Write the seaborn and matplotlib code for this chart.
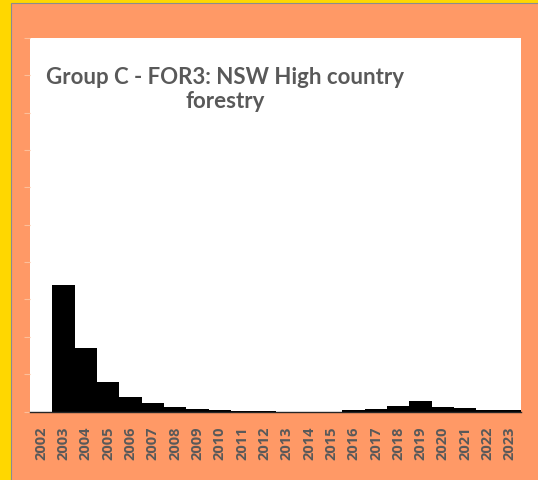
import matplotlib
matplotlib.use("Agg")
import matplotlib.pyplot as plt
from matplotlib.patches import Rectangle
import seaborn as sns
import pandas as pd

years = [str(y) for y in range(2002, 2024)]
values = [0, 34, 17, 8, 4, 2.2, 1.1, 0.8, 0.4, 0.2, 0.1, 0, 0, 0,
          0.5, 0.8, 1.6, 2.9, 1.3, 1.0, 0.5, 0.3]
title_lines = ["Group C - FOR3: NSW High country", "forestry"]

sns.set_theme(style="white")
plt.rcParams["font.family"] = ["Lato", "DejaVu Sans"]

W, H = 538, 481
fig = plt.figure(figsize=(W / 100, H / 100), dpi=100)
fig.patch.set_facecolor("#FFD700")

# orange chart area with thin grey border
fig.add_artist(Rectangle((11 / W, -0.01), 1.02, 1 - 4 / H + 0.01,
                         transform=fig.transFigure, facecolor="#FF9966",
                         edgecolor="#8C8C8C", linewidth=0.8, zorder=-5))

ax = fig.add_axes([30 / W, 1 - 412.5 / H, (521 - 30) / W, (412.5 - 39) / H])
ax.set_zorder(2)
ax.set_facecolor("white")

df = pd.DataFrame({"year": years, "value": values})
sns.barplot(data=df, x="year", y="value", color="black", width=1.0,
            saturation=1, edgecolor="none", ax=ax)
ax.set_xlim(-0.5, len(years) - 0.5)
ax.set_ylim(0, 100)
ax.set_yticks(range(0, 101, 10))
ax.set_yticklabels([])
ax.tick_params(axis="y", left=True, length=4, width=0.8, color="#FDBE9A",
               direction="out", pad=0)
ax.tick_params(axis="x", bottom=False, pad=4)
for lbl in ax.get_xticklabels():
    lbl.set_rotation(90)
    lbl.set_family(["Open Sans", "DejaVu Sans"])
    lbl.set_fontsize(10.5)
    lbl.set_fontweight("bold")
    lbl.set_color("#595959")
    lbl.set_va("top")
    lbl.set_ha("center")
ax.set_xlabel("")
ax.set_ylabel("")
for s in ["top", "right", "left"]:
    ax.spines[s].set_visible(False)
ax.spines["bottom"].set_color("#262626")
ax.spines["bottom"].set_linewidth(1.0)

fig.text(225 / W, 1 - 84 / H, title_lines[0], ha="center", va="baseline",
         fontsize=16, fontweight="bold", color="#595959")
fig.text(225 / W, 1 - 108 / H, title_lines[1], ha="center", va="baseline",
         fontsize=16, fontweight="bold", color="#595959")

fig.savefig("out.png", dpi=100, facecolor=fig.get_facecolor())
